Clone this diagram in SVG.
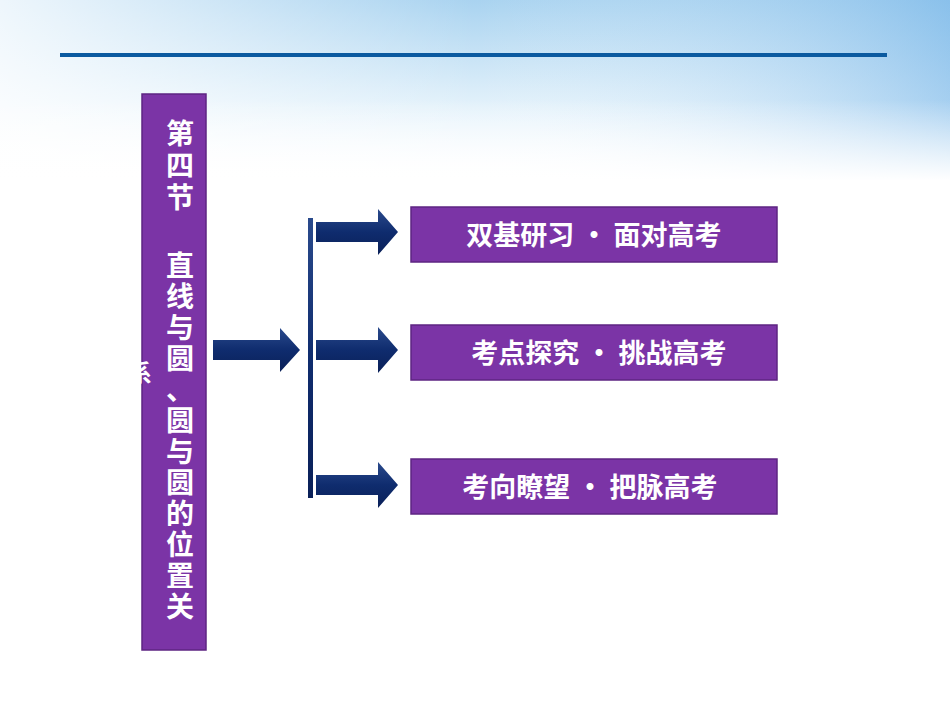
<svg xmlns="http://www.w3.org/2000/svg" width="950" height="713" viewBox="0 0 950 713">
<defs>
<linearGradient id="sky" x1="0" y1="0" x2="0" y2="1"><stop offset="0" stop-color="#a9d3f0"/><stop offset="0.6" stop-color="#e4f2fb"/><stop offset="1" stop-color="#ffffff"/></linearGradient>
<linearGradient id="sky2" x1="0" y1="0" x2="1" y2="0"><stop offset="0" stop-color="#fff" stop-opacity="0.8"/><stop offset="0.5" stop-color="#fff" stop-opacity="0"/><stop offset="1" stop-color="#6aaee6" stop-opacity="0.5"/></linearGradient>
<linearGradient id="fade" x1="0" y1="0" x2="0" y2="1"><stop offset="0" stop-color="#fff" stop-opacity="0"/><stop offset="1" stop-color="#fff" stop-opacity="1"/></linearGradient>
<linearGradient id="arr" x1="0" y1="0" x2="0" y2="1"><stop offset="0" stop-color="#2a4a8c"/><stop offset="0.5" stop-color="#0f2c6e"/><stop offset="1" stop-color="#0a2058"/></linearGradient>
<style>
.box{fill:#7b34a6;stroke:#5e2582;stroke-width:1.5}
.t{font-family:"Noto Sans CJK SC","Noto Sans",sans-serif;font-weight:bold;fill:#fff}
.a{fill:url(#arr)}
</style>
</defs>
<rect width="950" height="713" fill="#fff"/>
<rect width="950" height="180" fill="url(#sky)"/>
<rect width="950" height="180" fill="url(#sky2)"/>
<rect y="100" width="950" height="81" fill="url(#fade)"/>
<rect x="60" y="53" width="827" height="4" fill="#0b5aa0"/>
<g id="main">
<rect class="box" x="142" y="94" width="64" height="556"/>
<text class="t" font-size="28" text-anchor="middle"><tspan x="180" y="144">第</tspan><tspan x="180" y="176">四</tspan><tspan x="180" y="208">节</tspan><tspan x="180" y="276">直</tspan><tspan x="180" y="307">线</tspan><tspan x="180" y="338">与</tspan><tspan x="180" y="369">圆</tspan><tspan x="180" y="400">、</tspan><tspan x="180" y="431">圆</tspan><tspan x="180" y="462">与</tspan><tspan x="180" y="493">圆</tspan><tspan x="180" y="524">的</tspan><tspan x="180" y="555">位</tspan><tspan x="180" y="586">置</tspan><tspan x="180" y="617">关</tspan></text>
<text class="t" font-size="24" x="128" y="382">系</text>
</g>
<g id="connectors">
<path class="a" d="M213 340H280V328L300 350L280 372V360H213Z"/>
<rect class="a" x="308" y="218" width="5" height="280"/>
<path class="a" d="M316 222H378V209L398 232L378 255V242H316Z"/>
<path class="a" d="M316 340H378V327L398 350L378 373V360H316Z"/>
<path class="a" d="M316 475H378V462L398 485L378 508V495H316Z"/>
</g>
<g id="n1"><rect class="box" x="411" y="207" width="366" height="55"/><text class="t" font-size="27" x="594" y="245" text-anchor="middle">双基研习 · 面对高考</text></g>
<g id="n2"><rect class="box" x="411" y="325" width="366" height="55"/><text class="t" font-size="27" x="599" y="363" text-anchor="middle">考点探究 · 挑战高考</text></g>
<g id="n3"><rect class="box" x="411" y="459" width="366" height="55"/><text class="t" font-size="27" x="590" y="497" text-anchor="middle">考向瞭望 · 把脉高考</text></g>
</svg>
